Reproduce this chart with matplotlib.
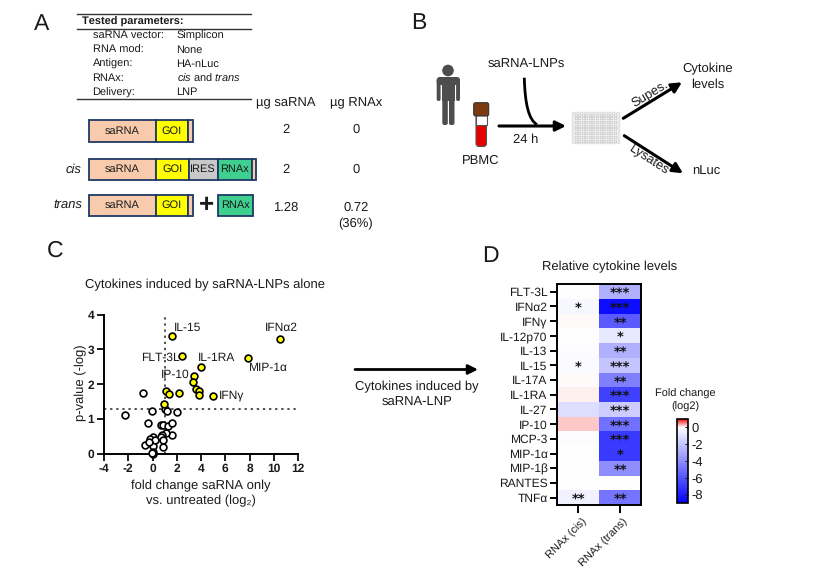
import matplotlib
matplotlib.use("Agg")
import matplotlib.pyplot as plt
import numpy as np
from matplotlib.colors import LinearSegmentedColormap, Normalize
from matplotlib.patches import Rectangle, Circle, FancyBboxPatch, FancyArrowPatch, PathPatch
from matplotlib.path import Path

plt.rcParams['font.family'] = ['Liberation Sans', 'DejaVu Sans']
plt.rcParams['mathtext.fontset'] = 'custom'
plt.rcParams['mathtext.rm'] = 'Liberation Sans'
plt.rcParams['mathtext.it'] = 'Liberation Sans:italic'
plt.rcParams['axes.unicode_minus'] = False
plt.rcParams['text.hinting'] = 'none'
plt.rcParams['text.hinting_factor'] = 1

W, H = 830, 569

# ---------- data ----------
param_names = ["saRNA vector:", "RNA mod:", "Antigen:", "RNAx:", "Delivery:"]
param_values = ["Simplicon", "None", "HA-nLuc", r"$\mathit{cis}$ and $\mathit{trans}$", "LNP"]
ug_sarna = ["2", "2", "1.28"]
ug_rnax = ["0", "0", "0.72"]

sig_x = [1.6, 10.55, 2.4, 7.9, 4.0, 3.4, 3.35, 3.55, 3.8, 3.85, 5.0, 2.17, 1.15, 1.35, 0.96]
sig_y = [3.4, 3.3, 2.8, 2.74, 2.5, 2.24, 2.07, 1.87, 1.79, 1.68, 1.67, 1.75, 1.79, 1.72, 1.43]
ns_x = [-0.77, -0.08, -2.25, 1.07, 1.18, 2.03, -0.36, 0.66, 0.9, 1.3, 1.6, 1.62, 1.15, 0.82,
        0.69, 0.88, 0.85, 0.05, -0.2, -0.6, -0.16, 0.05, 0.22, 0.0, 0.0, -0.08, -0.27]
ns_y = [1.74, 1.23, 1.1, 1.28, 1.23, 1.21, 0.87, 0.82, 0.82, 0.8, 0.87, 0.53, 0.59, 0.55,
        0.48, 0.39, 0.18, 0.49, 0.41, 0.24, 0.32, 0.22, 0.39, 0.06, 0.0, 0.01, 0.35]

cytokines = ["FLT-3L", "IFNα2", "IFNγ", "IL-12p70", "IL-13", "IL-15", "IL-17A", "IL-1RA",
             "IL-27", "IP-10", "MCP-3", "MIP-1α", "MIP-1β", "RANTES", "TNFα"]
cis_vals = [-0.02, -0.3, 0.0, -0.05, -0.1, -0.15, 0.0, 0.05, -1.2, 0.2, -0.1, -0.05, -0.05, -0.02, -0.5]
trans_vals = [-2.8, -8.5, -5.8, -0.8, -2.8, -2.1, -4.5, -6.7, -1.8, -5.0, -7.0, -7.0, -4.0, -0.02, -4.9]
cis_stars = ["", "*", "", "", "", "*", "", "", "", "", "", "", "", "", "**"]
trans_stars = ["***", "***", "**", "*", "**", "***", "**", "***", "***", "***", "***", "*", "**", "", "**"]
columns = ["RNAx (cis)", "RNAx (trans)"]

# ---------- helpers ----------
fig = plt.figure(figsize=(W / 100, H / 100), dpi=100, facecolor='white')


def px_axes(l, t, r, b, **kw):
    return fig.add_axes([l / W, 1 - b / H, (r - l) / W, (b - t) / H], **kw)


ov = fig.add_axes([0, 0, 1, 1], zorder=5)
ov.set_xlim(0, W)
ov.set_ylim(H, 0)
ov.axis('off')
ov.patch.set_alpha(0)

FS = 9.0
TC = '#1a1a1a'


def T(x, y, s, size=FS, ha='center', va='center', **kw):
    ov.text(x, y, s, fontsize=size, ha=ha, va=va, color=TC, **kw)


def arrow(p0, p1, lw=2.2, ms=15, **kw):
    ov.add_patch(FancyArrowPatch(p0, p1, arrowstyle='-|>', mutation_scale=ms, lw=lw,
                                 color='black', shrinkA=0, shrinkB=0, **kw))


# panel letters
for x, y, s in [(34, 24, 'A'), (411, 23, 'B'), (47, 251, 'C'), (482, 256, 'D')]:
    T(x, y, s, size=16.5, ha='left')

# ---------- Panel A ----------
for y in (14.3, 28.7, 99.3):
    ov.plot([77, 251], [y, y], color='#333333', lw=1.0)
T(82, 21.5, "Tested parameters:", size=8.2, ha='left', fontweight='bold')
for y, n, v in zip((35.5, 50, 64, 78.5, 92.5), param_names, param_values):
    T(92.5, y, n, size=8.2, ha='left')
    T(176.5, y, v, size=8.2, ha='left')
T(286, 103, "µg saRNA")
T(356, 103, "µg RNAx")

NAVY = '#1f3864'
PEACH, YEL, GREY, GREEN = '#f8cbad', '#ffff00', '#c9c9c9', '#3fcf8e'


def seg(x0, x1, y0, y1, c, label=None, fs=8):
    ov.add_patch(Rectangle((x0, y0), x1 - x0, y1 - y0, fc=c, ec=NAVY, lw=1.3))
    if label:
        T((x0 + x1) / 2, (y0 + y1) / 2 - 0.3, label, size=fs)


seg(89, 156, 120.3, 141.7, PEACH, 'saRNA')
seg(156, 187.7, 120.3, 141.7, YEL, 'GOI')
seg(187.7, 193, 120.3, 141.7, PEACH)

seg(89, 156, 158.7, 180, PEACH, 'saRNA')
seg(156, 188.5, 158.7, 180, YEL, 'GOI')
seg(188.5, 217.7, 158.7, 180, GREY, 'IRES')
seg(217.7, 251.7, 158.7, 180, GREEN, 'RNAx')
seg(251.7, 256, 158.7, 180, PEACH)

seg(89, 156, 195, 216, PEACH, 'saRNA')
seg(156, 188, 195, 216, YEL, 'GOI')
seg(188, 193, 195, 216, PEACH)
seg(218, 253.3, 195, 216, GREEN, 'RNAx')
T(206.7, 205.5, '+', size=19, fontweight='bold')

T(81, 170, 'cis', ha='right', style='italic')
T(82, 205, 'trans', ha='right', style='italic')
for y, a, b in zip((130, 170, 208), ug_sarna, ug_rnax):
    T(286, y, a)
    T(356, y, b)
T(356, 224, "(36%)")

# ---------- Panel B ----------
P = '#4d4d4d'
ov.add_patch(Circle((448, 70.5), 5.8, fc=P, ec='none'))
ov.add_patch(FancyBboxPatch((436.7, 77), 23.3, 8, boxstyle='round,pad=0,rounding_size=3', fc=P, ec='none'))
ov.add_patch(Rectangle((441.8, 80), 13, 21, fc=P, ec='none'))
ov.add_patch(FancyBboxPatch((436.7, 79), 3.9, 22, boxstyle='round,pad=0,rounding_size=1.8', fc=P, ec='none'))
ov.add_patch(FancyBboxPatch((456.1, 79), 3.9, 22, boxstyle='round,pad=0,rounding_size=1.8', fc=P, ec='none'))
ov.add_patch(FancyBboxPatch((442.3, 95), 5.5, 30, boxstyle='round,pad=0,rounding_size=2', fc=P, ec='none'))
ov.add_patch(FancyBboxPatch((449, 95), 5.5, 30, boxstyle='round,pad=0,rounding_size=2', fc=P, ec='none'))

ov.add_patch(FancyBboxPatch((476, 110), 10.5, 36.5, boxstyle='round,pad=0,rounding_size=3',
                            fc='#e60000', ec='#555555', lw=0.8))
ov.add_patch(Rectangle((476, 115), 10.5, 9.5, fc='white', ec='#555555', lw=0.8))
ov.add_patch(FancyBboxPatch((473.7, 102.7), 15, 13.3, boxstyle='round,pad=0,rounding_size=2',
                            fc='#7b3a12', ec='#333333', lw=0.8))
T(481, 160.7, 'PBMC')
T(526, 64.3, 'saRNA-LNPs')
T(526, 140, '24 h')
ov.add_patch(PathPatch(Path([(524.3, 77.7), (525, 105), (529, 120), (537, 124.6)],
                            [Path.MOVETO, Path.CURVE4, Path.CURVE4, Path.CURVE4]),
                       fc='none', ec='black', lw=2.0))
arrow((499, 126), (566, 126))

ov.add_patch(Rectangle((572, 111.7), 46.7, 31.6, fc='#ededed', ec='#e2e2e2', lw=1))
gx, gy = np.meshgrid(np.linspace(575.5, 615, 12), np.linspace(114.5, 140.5, 8))
ov.scatter(gx.ravel(), gy.ravel(), s=3.5, fc='#fafafa', ec='#b5b5b5', lw=0.35)

arrow((623.3, 118.3), (682, 82.3))
arrow((624.3, 135.7), (683, 173.3))
T(649.5, 93.5, 'Supes.', rotation=31)
T(648.7, 160.5, 'Lysates', rotation=-33)
T(708, 69.3, 'Cytokine')
T(708, 84.3, 'levels')
T(706, 171.7, 'nLuc')

# ---------- Panel C ----------
ax = px_axes(104, 314.7, 298, 453.7)
ax.set_xlim(-4, 12)
ax.set_ylim(0, 4)
ax.axhline(1.3, color='#222222', ls=(0, (1.5, 2.5)), lw=1.1, zorder=1)
ax.axvline(1, color='#222222', ls=(0, (1.5, 2.5)), lw=1.1, zorder=1)
ax.scatter(ns_x, ns_y, s=24, fc='white', ec='black', lw=1.2, zorder=3, clip_on=False)
ax.scatter(sig_x, sig_y, s=24, fc='#ffff00', ec='black', lw=1.2, zorder=4, clip_on=False)
for s in ('top', 'right'):
    ax.spines[s].set_visible(False)
for s in ('left', 'bottom'):
    ax.spines[s].set_linewidth(1.4)
ax.set_xticks(np.arange(-4, 13, 2))
ax.set_yticks(np.arange(0, 5))
ax.tick_params(width=1.4, length=5, labelsize=8.5, pad=2, colors=TC)
for t in ax.get_xticklabels() + ax.get_yticklabels():
    t.set_fontweight('bold')
T(205, 285, 'Cytokines induced by saRNA-LNPs alone', size=9.2)
T(201, 486, 'fold change saRNA only', size=9.6)
T(201, 501, 'vs. untreated (log₂)', size=9.6)
T(80.7, 383, 'p-value (-log)', size=9.6, rotation=90)
for x, y, s in [(188, 328, 'IL-15'), (281.3, 327.3, 'IFNα2'), (160, 357.3, 'FLT-3L'),
                (216.3, 357.7, 'IL-1RA'), (267.3, 367.3, 'MIP-1α'), (175.3, 374.7, 'IP-10'),
                (231.3, 395.7, 'IFNγ')]:
    T(x, y, s, size=8.8)

# middle arrow
arrow((355, 369.5), (478, 369.5), lw=2.0, ms=14)
T(417, 387.3, 'Cytokines induced by', size=9.2)
T(417, 403, 'saRNA-LNP', size=9.2)

# ---------- Panel D ----------
cmap = LinearSegmentedColormap.from_list('bwr9', [(0, '#0000ff'), (0.9, '#ffffff'), (1, '#ff0000')])
norm = Normalize(-9, 1)
hm = px_axes(557.3, 284.3, 641, 505)
Z = np.array([cis_vals, trans_vals]).T
mesh = hm.pcolormesh(np.arange(3), np.arange(len(cytokines) + 1), Z, cmap=cmap, norm=norm)
hm.set_ylim(len(cytokines), 0)
hm.set_xticks([0.5, 1.5])
hm.set_xticklabels([])
hm.set_yticks(np.arange(len(cytokines)) + 0.5)
hm.set_yticklabels(cytokines, fontsize=8.3, color=TC)
hm.tick_params(axis='y', length=5, width=1.4, pad=2)
hm.tick_params(axis='x', length=6, width=1.4)
for s in hm.spines.values():
    s.set_linewidth(1.4)
for i in range(len(cytokines)):
    for j, st in enumerate((cis_stars[i], trans_stars[i])):
        if st:
            hm.text(j + 0.5, i + 0.68, st, fontsize=9.5, fontweight='bold', ha='center',
                    va='center', color='#111111', family='DejaVu Sans')
T(610, 267, 'Relative cytokine levels', size=9.2)
T(582, 517, columns[0], size=8.2, rotation=45, ha='right', va='top', rotation_mode='anchor')
T(623, 517, columns[1], size=8.2, rotation=45, ha='right', va='top', rotation_mode='anchor')
T(685, 393.7, 'Fold change', size=8.0)
T(685, 406.7, '(log2)', size=8.0)

cax = px_axes(676.7, 418.7, 687.7, 503)
cb = fig.colorbar(mesh, cax=cax, ticks=[0, -2, -4, -6, -8])
cb.ax.tick_params(labelsize=9.5, length=2, width=0.8, pad=3, colors=TC, direction='in')
cb.set_ticklabels(['0', '-2', '-4', '-6', '-8'])
cb.outline.set_linewidth(1.2)

fig.savefig('out.png', dpi=100)
